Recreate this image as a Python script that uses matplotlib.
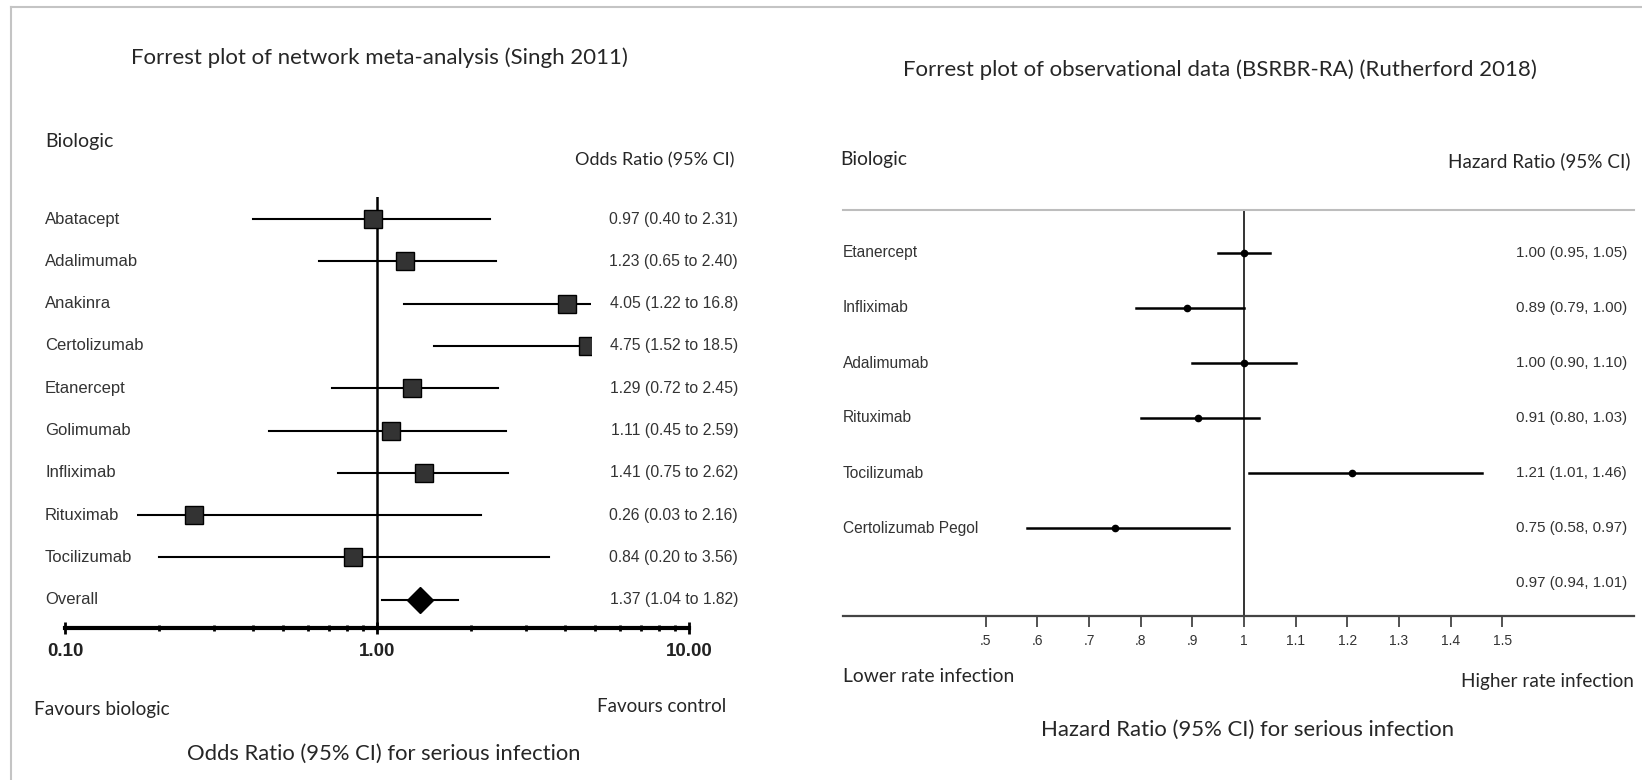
import matplotlib
matplotlib.use('Agg')
import matplotlib.pyplot as plt
from matplotlib.lines import Line2D
from matplotlib.patches import Rectangle
from matplotlib.transforms import blended_transform_factory

# Singh 2011 network meta-analysis (odds ratios)
singh_drugs = ['Abatacept', 'Adalimumab', 'Anakinra', 'Certolizumab', 'Etanercept',
               'Golimumab', 'Infliximab', 'Rituximab', 'Tocilizumab']
singh_or = [0.97, 1.23, 4.05, 4.75, 1.29, 1.11, 1.41, 0.26, 0.84]
singh_lo = [0.40, 0.65, 1.22, 1.52, 0.72, 0.45, 0.75, 0.03, 0.20]
singh_hi = [2.31, 2.40, 16.8, 18.5, 2.45, 2.59, 2.62, 2.16, 3.56]
singh_text = ['0.97 (0.40 to 2.31)', '1.23 (0.65 to 2.40)', '4.05 (1.22 to 16.8)',
              '4.75 (1.52 to 18.5)', '1.29 (0.72 to 2.45)', '1.11 (0.45 to 2.59)',
              '1.41 (0.75 to 2.62)', '0.26 (0.03 to 2.16)', '0.84 (0.20 to 3.56)']
singh_overall = [1.37, 1.04, 1.82]
singh_overall_text = '1.37 (1.04 to 1.82)'
singh_ticks = [0.1, 1.0, 10.0]
singh_ticklabels = ['0.10', '1.00', '10.00']
# the plotted rows are cut off outside this window in the original
singh_clip = [0.17, 4.85]

# Rutherford 2018 BSRBR-RA (hazard ratios)
bsr_drugs = ['Etanercept', 'Infliximab', 'Adalimumab', 'Rituximab', 'Tocilizumab',
             'Certolizumab Pegol']
bsr_hr = [1.00, 0.89, 1.00, 0.91, 1.21, 0.75]
bsr_lo = [0.95, 0.79, 0.90, 0.80, 1.01, 0.58]
bsr_hi = [1.05, 1.00, 1.10, 1.03, 1.46, 0.97]
bsr_overall = [0.97, 0.94, 1.01]
bsr_ticks = [0.5, 0.6, 0.7, 0.8, 0.9, 1.0, 1.1, 1.2, 1.3, 1.4, 1.5]
bsr_ticklabels = ['.5', '.6', '.7', '.8', '.9', '1', '1.1', '1.2', '1.3', '1.4', '1.5']

W, H = 1642, 780
ARIAL = 'Liberation Sans'
CALIBRI = 'Lato'
TXT = '#262626'


def fx(x):
    return x / W


def fy(y):
    return 1 - y / H


fig = plt.figure(figsize=(W / 100, H / 100), dpi=100)
fig.patch.set_facecolor('white')

# grey frame
fig.add_artist(Line2D([fx(11), fx(11)], [fy(7), 0], color='#c4c4c4', lw=1.5))
fig.add_artist(Line2D([fx(11), 1], [fy(7), fy(7)], color='#c4c4c4', lw=1.5))

# ---------------- left panel ----------------
row0, step = 219, 42.3
ax_bot, ax_top = 628, 197
ax1 = fig.add_axes([fx(65), fy(ax_bot), (689 - 65) / W, (ax_bot - ax_top) / H])
ax1.set_xscale('log')
ax1.set_xlim(0.1, 10)
ax1.set_ylim((ax_bot - row0) / step, (ax_top - row0) / step)
for s in ['top', 'right', 'left']:
    ax1.spines[s].set_visible(False)
ax1.spines['bottom'].set_linewidth(3)
ax1.set_yticks([])
ax1.set_xticks(singh_ticks)
ax1.set_xticklabels(singh_ticklabels, fontfamily=ARIAL, fontweight='bold',
                    fontsize=13.5, color='#222222')
ax1.tick_params(axis='x', which='major', direction='inout', length=9, width=2, pad=6)
ax1.tick_params(axis='x', which='minor', direction='inout', length=5, width=2)
ax1.patch.set_visible(False)
ax1.axvline(1.0, color='black', lw=1.8)

clip = Rectangle((singh_clip[0], -5), singh_clip[1] - singh_clip[0], 30,
                 transform=ax1.transData, fill=False, visible=False)
ax1.add_patch(clip)
for i in range(len(singh_drugs)):
    ln, = ax1.plot([singh_lo[i], singh_hi[i]], [i, i], color='black', lw=1.5)
    mk, = ax1.plot(singh_or[i], i, marker='s', ms=13.5, mfc='#333333',
                   mec='black', mew=1)
    ln.set_clip_path(clip)
    mk.set_clip_path(clip)
n = len(singh_drugs)
ax1.plot(singh_overall[1:], [n, n], color='black', lw=1.5)
ax1.plot(singh_overall[0], n, marker='D', ms=13, color='black')

tr1 = blended_transform_factory(fig.transFigure, ax1.transData)
for i, name in enumerate(singh_drugs + ['Overall']):
    ax1.text(fx(45), i, name, transform=tr1, ha='left', va='center',
             fontfamily=ARIAL, fontsize=12, color='#333333')
for i, t in enumerate(singh_text + [singh_overall_text]):
    ax1.text(fx(738), i, t, transform=tr1, ha='right', va='center',
             fontfamily=ARIAL, fontsize=11.3, color='#333333')

fig.text(fx(379), fy(58), 'Forrest plot of network meta-analysis (Singh 2011)',
         ha='center', va='center', fontfamily=CALIBRI, fontsize=16, color=TXT)
fig.text(fx(45), fy(142), 'Biologic', ha='left', va='center',
         fontfamily=CALIBRI, fontsize=14, color=TXT)
fig.text(fx(734), fy(160), 'Odds Ratio (95% CI)', ha='right', va='center',
         fontfamily=CALIBRI, fontsize=13, color=TXT)
fig.text(fx(34), fy(709), 'Favours biologic', ha='left', va='center',
         fontfamily=CALIBRI, fontsize=13.7, color=TXT)
fig.text(fx(726), fy(707), 'Favours control', ha='right', va='center',
         fontfamily=CALIBRI, fontsize=13.5, color=TXT)
fig.text(fx(384), fy(754), 'Odds Ratio (95% CI) for serious infection',
         ha='center', va='center', fontfamily=CALIBRI, fontsize=15.8, color=TXT)

# ---------------- right panel ----------------
r0, rstep = 253, 55
x_lo = 1 - (1244 - 843) / 516.5
x_hi = 1 + (1634 - 1244) / 516.5
ax2 = fig.add_axes([fx(843), fy(616), (1634 - 843) / W, (616 - 210) / H])
ax2.set_xlim(x_lo, x_hi)
ax2.set_ylim((616 - r0) / rstep, (210 - r0) / rstep)
ax2.spines['left'].set_visible(False)
ax2.spines['right'].set_visible(False)
ax2.spines['top'].set_color('#bdbdbd')
ax2.spines['top'].set_linewidth(1.5)
ax2.spines['bottom'].set_color('#444444')
ax2.spines['bottom'].set_linewidth(1.6)
ax2.set_yticks([])
ax2.set_xticks(bsr_ticks)
ax2.set_xticklabels(bsr_ticklabels, fontfamily=ARIAL, fontsize=10, color='#333333')
ax2.tick_params(axis='x', direction='out', length=8, width=1.3, color='#444444', pad=5)
ax2.patch.set_visible(False)
ax2.axvline(1.0, color='#333333', lw=1.4)

for i in range(len(bsr_drugs)):
    ax2.plot([bsr_lo[i], bsr_hi[i]], [i, i], color='black', lw=1.8)
    ax2.plot(bsr_hr[i], i, marker='o', ms=4.5, color='black')

tr2 = blended_transform_factory(fig.transFigure, ax2.transData)
for i, name in enumerate(bsr_drugs):
    ax2.text(fx(843), i, name, transform=tr2, ha='left', va='center',
             fontfamily=ARIAL, fontsize=11.2, color='#333333')
vals = list(zip(bsr_hr, bsr_lo, bsr_hi)) + [tuple(bsr_overall)]
for i, (h, l, u) in enumerate(vals):
    ax2.text(fx(1627), i, f'{h:.2f} ({l:.2f}, {u:.2f})', transform=tr2,
             ha='right', va='center', fontfamily=ARIAL, fontsize=10.9, color='#333333')

fig.text(fx(1220), fy(70), 'Forrest plot of observational data (BSRBR-RA) (Rutherford 2018)',
         ha='center', va='center', fontfamily=CALIBRI, fontsize=16, color=TXT)
fig.text(fx(840), fy(160), 'Biologic', ha='left', va='center',
         fontfamily=CALIBRI, fontsize=13.8, color=TXT)
fig.text(fx(1630), fy(161), 'Hazard Ratio (95% CI)', ha='right', va='center',
         fontfamily=CALIBRI, fontsize=13.6, color=TXT)
fig.text(fx(843), fy(676), 'Lower rate infection', ha='left', va='center',
         fontfamily=CALIBRI, fontsize=13.9, color=TXT)
fig.text(fx(1634), fy(681), 'Higher rate infection', ha='right', va='center',
         fontfamily=CALIBRI, fontsize=13.7, color=TXT)
fig.text(fx(1248), fy(730), 'Hazard Ratio (95% CI) for serious infection',
         ha='center', va='center', fontfamily=CALIBRI, fontsize=15.9, color=TXT)

fig.savefig('out.png', dpi=100)
